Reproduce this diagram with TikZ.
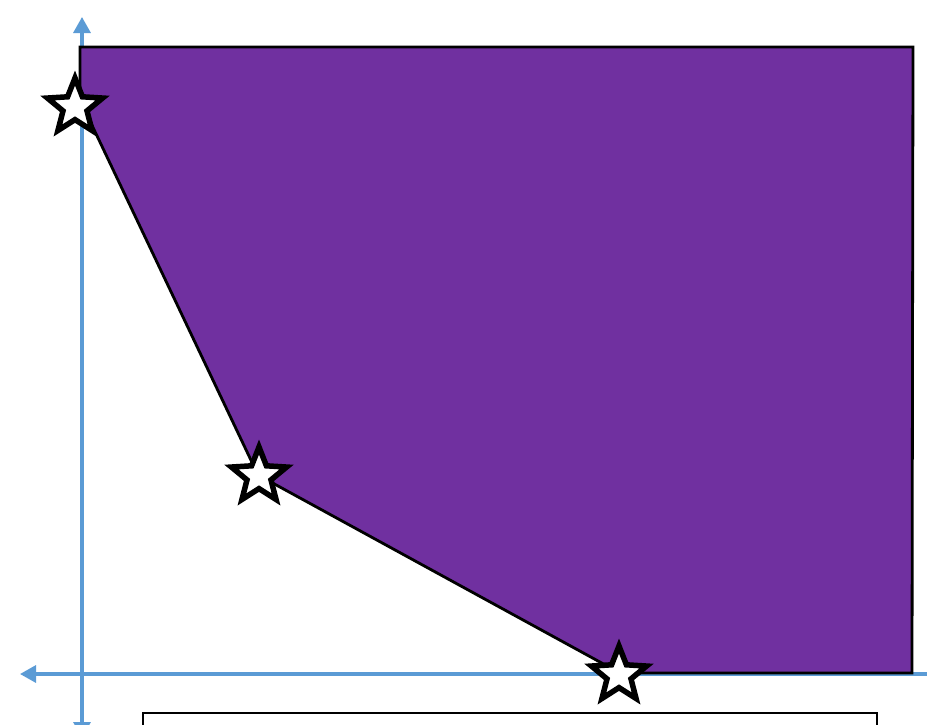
\documentclass[tikz,border=0pt]{standalone}
\usetikzlibrary{shapes.geometric,arrows.meta}
\definecolor{regionpurple}{RGB}{112,48,160}
\definecolor{axisblue}{RGB}{91,155,213}
\tikzset{
  axisline/.style={draw=axisblue,line width=3.2pt,-{Triangle[length=16pt,width=17pt]}},
  region/.style={fill=regionpurple,draw=black,line width=2.8pt,line join=miter},
  vertexstar/.style={star,star points=5,star point ratio=2.3,draw=black,fill=white,line width=5.5pt,inner sep=0pt,minimum size=58pt},
}
\begin{document}
\begin{tikzpicture}[x=1pt,y=-1pt]
\useasboundingbox (0,0) rectangle (927,724);
\clip (0,0) rectangle (927,724);
% axes
\coordinate (origin) at (82,674);
\coordinate (ybot) at (82,738);
\coordinate (ytop) at (82,17);
\coordinate (xright) at (960,674);
\coordinate (xleft) at (20,674);
\draw[axisline] (origin) -- (ytop);
\draw[axisline] (origin) -- (ybot);
\draw[axisline] (xright) -- (xleft);
% feasible region
\coordinate (p1) at (80,47);
\coordinate (p2) at (913,47);
\coordinate (p3) at (912,673);
\coordinate (p4) at (620,673);
\coordinate (p5) at (258,475);
\coordinate (p6) at (80,100);
\draw[region] (p1) -- (p2) -- (p3) -- (p4) -- (p5) -- (p6) -- cycle;
% bottom box
\draw[black,line width=2.2pt,fill=white] (143,713) rectangle (877,760);
% stars
\node[vertexstar] (s1) at (75,107) {};
\node[vertexstar] (s2) at (259,476) {};
\node[vertexstar] (s3) at (619,675) {};
\end{tikzpicture}
\end{document}
